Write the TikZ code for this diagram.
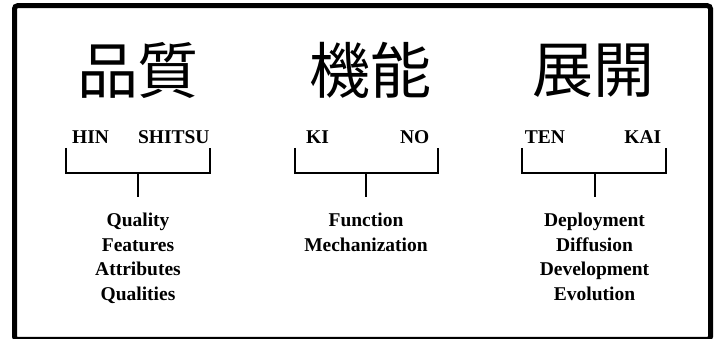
\documentclass[tikz,border=0pt]{standalone}
\usepackage{fontspec}
\setmainfont{Liberation Serif}
\newfontfamily\cjk{Noto Sans CJK JP}
\begin{document}
\begin{tikzpicture}[x=1pt,y=-1pt,
  kanji/.style={inner sep=0pt,font=\cjk\fontsize{61}{61}\selectfont},
  roma/.style={inner sep=0pt,anchor=base,font=\bfseries\fontsize{19.5}{22}\selectfont},
  mean/.style={inner sep=0pt,anchor=base,font=\bfseries\fontsize{19.5}{22}\selectfont},
  brk/.style={line width=2pt},
  frame/.style={line width=5pt,rounded corners=3pt}]
\useasboundingbox (0,0) rectangle (716,339);
\draw[frame] (14.5,5.75) rectangle (710.5,339.5);
% column 1
\node[kanji] (k1) at (138,70.5) {品質};
\node[roma] (r1a) at (90.5,143.5) {HIN};
\node[roma] (r1b) at (173.8,143.5) {SHITSU};
\coordinate (b1l) at (66,148);
\coordinate (b1r) at (209.5,148);
\coordinate (b1m) at (138,173);
\coordinate (b1s) at (138,197);
\draw[brk] (b1l) |- (b1m) -| (b1r);
\draw[brk] (b1m) -- (b1s);
\node[mean] (m1a) at (138,227) {Quality};
\node[mean] (m1b) at (138,251.5) {Features};
\node[mean] (m1c) at (138,276) {Attributes};
\node[mean] (m1d) at (138,300.5) {Qualities};
% column 2
\node[kanji] (k2) at (370,70.5) {機能};
\node[roma] (r2a) at (317.5,143.5) {KI};
\node[roma] (r2b) at (414.75,143.5) {NO};
\coordinate (b2l) at (294.5,148);
\coordinate (b2r) at (438,148);
\coordinate (b2m) at (366,173);
\coordinate (b2s) at (366,197);
\draw[brk] (b2l) |- (b2m) -| (b2r);
\draw[brk] (b2m) -- (b2s);
\node[mean] (m2a) at (366,227) {Function};
\node[mean] (m2b) at (366,251.5) {Mechanization};
% column 3
\node[kanji] (k3) at (593,70.5) {展開};
\node[roma] (r3a) at (545,143.5) {TEN};
\node[roma] (r3b) at (642.75,143.5) {KAI};
\coordinate (b3l) at (522,148);
\coordinate (b3r) at (666,148);
\coordinate (b3m) at (594.5,173);
\coordinate (b3s) at (594.5,197);
\draw[brk] (b3l) |- (b3m) -| (b3r);
\draw[brk] (b3m) -- (b3s);
\node[mean] (m3a) at (594.5,227) {Deployment};
\node[mean] (m3b) at (594.5,251.5) {Diffusion};
\node[mean] (m3c) at (594.5,276) {Development};
\node[mean] (m3d) at (594.5,300.5) {Evolution};
\end{tikzpicture}
\end{document}
